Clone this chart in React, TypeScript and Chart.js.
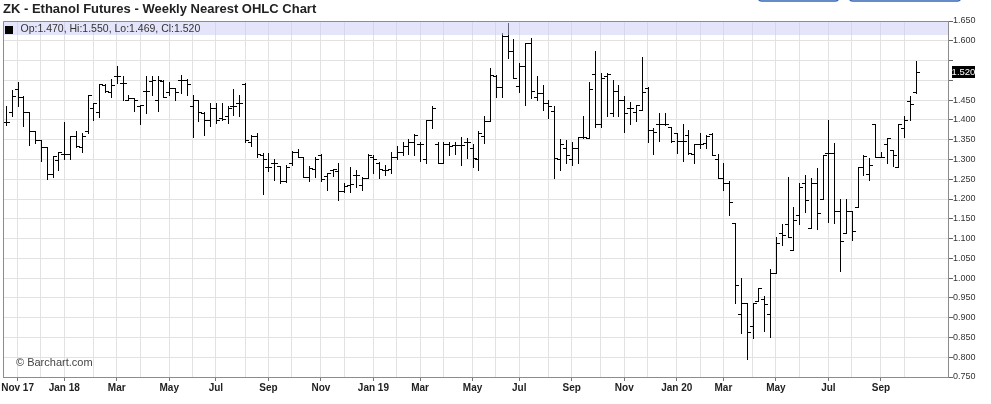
import { useEffect, useRef } from 'react';
import { Chart, registerables, BarController } from 'chart.js';

Chart.register(...registerables);

// Weekly bars (Monday dates), first bar week of 2017-10-23
const FIRST_WEEK = Date.UTC(2017, 9, 23);

const opens = [
  1.395, 1.42, 1.477, 1.457, 1.42, 1.373, 1.35, 1.331, 1.263, 1.299,
  1.313, 1.313, 1.36, 1.331, 1.373, 1.43, 1.42, 1.489, 1.471, 1.51,
  1.493, 1.45, 1.455, 1.434, 1.472, 1.498, 1.451, 1.498, 1.47, 1.48,
  1.5, 1.5, 1.434, 1.45, 1.417, 1.4, 1.43, 1.405, 1.41, 1.434,
  1.443, 1.49, 1.345, 1.36, 1.31, 1.28, 1.29, 1.283, 1.245, 1.29,
  1.32, 1.307, 1.256, 1.275, 1.31, 1.258, 1.273, 1.27, 1.22, 1.236,
  1.26, 1.235, 1.252, 1.305, 1.29, 1.273, 1.275, 1.305, 1.32, 1.335,
  1.345, 1.34, 1.3, 1.4, 1.34, 1.29, 1.34, 1.337, 1.336, 1.343,
  1.329, 1.3, 1.36, 1.398, 1.51, 1.482, 1.611, 1.575, 1.485, 1.535,
  1.594, 1.457, 1.469, 1.442, 1.423, 1.3, 1.33, 1.3, 1.33, 1.356,
  1.354, 1.515, 1.39, 1.51, 1.417, 1.474, 1.45, 1.43, 1.42, 1.425,
  1.48, 1.375, 1.39, 1.39, 1.383, 1.368, 1.347, 1.362, 1.313, 1.339,
  1.341, 1.365, 1.3, 1.252, 1.241, 1.14, 0.909, 0.938, 0.878, 0.942,
  0.948, 0.909, 1.012, 1.113, 1.138, 1.071, 1.16, 1.241, 1.126, 1.241,
  1.199, 1.317, 1.317, 1.17, 1.113, 1.17, 1.179, 1.28, 1.263, 1.389,
  1.305, 1.339, 1.324, 1.28, 1.379, 1.449, 1.47,
];
const highs = [
  1.434, 1.475, 1.496, 1.46, 1.42, 1.373, 1.35, 1.331, 1.308, 1.32,
  1.394, 1.36, 1.373, 1.368, 1.464, 1.443, 1.491, 1.491, 1.504, 1.536,
  1.51, 1.464, 1.455, 1.438, 1.512, 1.512, 1.512, 1.502, 1.496, 1.481,
  1.514, 1.504, 1.464, 1.451, 1.419, 1.443, 1.443, 1.443, 1.434, 1.477,
  1.464, 1.492, 1.362, 1.366, 1.317, 1.317, 1.3, 1.283, 1.285, 1.322,
  1.327, 1.307, 1.283, 1.305, 1.315, 1.266, 1.277, 1.292, 1.24, 1.282,
  1.273, 1.256, 1.313, 1.311, 1.294, 1.286, 1.32, 1.334, 1.345, 1.351,
  1.364, 1.345, 1.4, 1.435, 1.345, 1.345, 1.345, 1.345, 1.358, 1.355,
  1.339, 1.371, 1.41, 1.531, 1.514, 1.619, 1.645, 1.605, 1.544, 1.594,
  1.608, 1.512, 1.489, 1.451, 1.434, 1.352, 1.35, 1.345, 1.358, 1.41,
  1.497, 1.575, 1.518, 1.518, 1.5, 1.489, 1.461, 1.445, 1.438, 1.56,
  1.482, 1.379, 1.417, 1.417, 1.383, 1.368, 1.39, 1.375, 1.339, 1.366,
  1.362, 1.368, 1.313, 1.29, 1.245, 1.14, 1.0, 0.938, 0.937, 0.975,
  0.954, 1.024, 1.105, 1.137, 1.256, 1.18, 1.241, 1.261, 1.252, 1.278,
  1.311, 1.4, 1.341, 1.199, 1.199, 1.17, 1.28, 1.311, 1.303, 1.389,
  1.32, 1.354, 1.324, 1.389, 1.409, 1.461, 1.55,
];
const lows = [
  1.386, 1.409, 1.434, 1.384, 1.337, 1.341, 1.295, 1.25, 1.255, 1.274,
  1.3, 1.3, 1.331, 1.318, 1.367, 1.4, 1.407, 1.471, 1.458, 1.492,
  1.45, 1.45, 1.422, 1.39, 1.417, 1.464, 1.422, 1.458, 1.464, 1.451,
  1.468, 1.464, 1.358, 1.396, 1.363, 1.384, 1.392, 1.4, 1.392, 1.413,
  1.409, 1.345, 1.333, 1.307, 1.212, 1.27, 1.248, 1.241, 1.243, 1.286,
  1.307, 1.256, 1.246, 1.256, 1.246, 1.222, 1.258, 1.197, 1.218, 1.218,
  1.231, 1.222, 1.252, 1.265, 1.252, 1.26, 1.265, 1.3, 1.31, 1.315,
  1.31, 1.295, 1.29, 1.38, 1.29, 1.29, 1.31, 1.313, 1.286, 1.303,
  1.282, 1.273, 1.341, 1.398, 1.459, 1.457, 1.556, 1.506, 1.47, 1.438,
  1.455, 1.451, 1.426, 1.404, 1.253, 1.274, 1.29, 1.286, 1.29, 1.354,
  1.354, 1.381, 1.383, 1.409, 1.409, 1.409, 1.369, 1.39, 1.397, 1.425,
  1.345, 1.313, 1.347, 1.388, 1.345, 1.316, 1.296, 1.313, 1.29, 1.328,
  1.328, 1.311, 1.252, 1.223, 1.159, 0.936, 0.86, 0.796, 0.849, 0.942,
  0.866, 0.851, 1.012, 1.083, 1.103, 1.071, 1.138, 1.168, 1.126, 1.123,
  1.199, 1.142, 1.14, 1.018, 1.113, 1.097, 1.179, 1.261, 1.248, 1.306,
  1.305, 1.29, 1.284, 1.28, 1.358, 1.399, 1.469,
];
const closes = [
  1.395, 1.46, 1.457, 1.42, 1.373, 1.35, 1.331, 1.263, 1.308, 1.32,
  1.313, 1.36, 1.333, 1.36, 1.464, 1.443, 1.491, 1.474, 1.489, 1.51,
  1.493, 1.455, 1.45, 1.438, 1.472, 1.5, 1.502, 1.458, 1.48, 1.47,
  1.5, 1.49, 1.451, 1.42, 1.4, 1.43, 1.4, 1.402, 1.43, 1.434,
  1.443, 1.35, 1.36, 1.315, 1.3, 1.28, 1.29, 1.245, 1.28, 1.32,
  1.307, 1.256, 1.278, 1.3, 1.25, 1.265, 1.275, 1.221, 1.234, 1.237,
  1.26, 1.253, 1.31, 1.3, 1.275, 1.273, 1.305, 1.32, 1.333, 1.345,
  1.362, 1.34, 1.4, 1.43, 1.29, 1.34, 1.335, 1.337, 1.336, 1.343,
  1.303, 1.366, 1.398, 1.514, 1.482, 1.611, 1.575, 1.506, 1.535, 1.594,
  1.472, 1.469, 1.442, 1.436, 1.303, 1.34, 1.31, 1.33, 1.356, 1.356,
  1.479, 1.39, 1.507, 1.515, 1.474, 1.45, 1.417, 1.43, 1.438, 1.47,
  1.375, 1.369, 1.39, 1.39, 1.347, 1.347, 1.347, 1.316, 1.339, 1.339,
  1.36, 1.311, 1.252, 1.241, 1.193, 0.982, 0.938, 0.864, 0.937, 0.974,
  0.934, 1.012, 1.088, 1.109, 1.103, 1.148, 1.231, 1.197, 1.241, 1.164,
  1.311, 1.317, 1.17, 1.093, 1.17, 1.12, 1.28, 1.309, 1.286, 1.306,
  1.306, 1.354, 1.312, 1.389, 1.4, 1.441, 1.52,
];

const priceTicks = [
  0.75, 0.8, 0.85, 0.9, 0.95, 1.0, 1.05, 1.1, 1.15, 1.2,
  1.25, 1.3, 1.35, 1.4, 1.45, 1.5, 1.55, 1.6, 1.65,
];
const hiddenPriceLabels = [1.5, 1.55]; // covered by the last-price marker
const monthNames = ['Jan', 'Feb', 'Mar', 'Apr', 'May', 'Jun', 'Jul', 'Aug', 'Sep', 'Oct', 'Nov', 'Dec'];
const labelledMonths = [0, 2, 4, 6, 8, 10];

const TITLE = 'ZK - Ethanol Futures - Weekly Nearest OHLC Chart';
const COPYRIGHT = '\u00A9 Barchart.com';
const FONT = '"Liberation Sans", Arial, Helvetica, sans-serif';

const weekDates = opens.map((_, i) => new Date(FIRST_WEEK + i * 7 * 86400000));

// month grid positions: first weekly bar of each month
const monthTicks: { value: number; label: string }[] = [];
{
  let firstLabel = true;
  weekDates.forEach((d, i) => {
    if (i === 0) return;
    const m = d.getUTCMonth();
    if (m === weekDates[i - 1].getUTCMonth()) return;
    let label = '';
    if (labelledMonths.includes(m)) {
      label = monthNames[m];
      if (m === 0 || firstLabel) label += ' ' + String(d.getUTCFullYear()).slice(2);
      firstLabel = false;
    }
    monthTicks.push({ value: i, label });
  });
}

const ohlcData = opens.map((o, i) => ({ x: i, y: [lows[i], highs[i]], o, c: closes[i] }));

class OhlcController extends (BarController as any) {
  static id = 'ohlc';
  static defaults = { ...(BarController as any).defaults };
  static overrides = {
    scales: { _index_: { type: 'linear' }, _value_: { type: 'linear' } },
  };
  draw() {
    const self: any = this;
    const meta = self._cachedMeta;
    const chart = self.chart;
    const ctx: CanvasRenderingContext2D = chart.ctx;
    const yScale = meta.vScale;
    const xScale = meta.iScale;
    const area = chart.chartArea;
    const raw = self.getDataset().data;
    ctx.save();
    ctx.beginPath();
    ctx.rect(area.left, area.top, area.right - area.left, area.bottom - area.top);
    ctx.clip();
    ctx.strokeStyle = self.getDataset().color || '#000';
    ctx.lineWidth = 1;
    ctx.beginPath();
    for (let i = 0; i < raw.length; i++) {
      const d = raw[i];
      const X = Math.round(xScale.getPixelForValue(d.x));
      const yh = Math.round(yScale.getPixelForValue(d.y[1]));
      const yl = Math.round(yScale.getPixelForValue(d.y[0]));
      const yo = Math.round(yScale.getPixelForValue(d.o)) + 0.5;
      const yc = Math.round(yScale.getPixelForValue(d.c)) + 0.5;
      ctx.moveTo(X + 0.5, yh);
      ctx.lineTo(X + 0.5, Math.max(yl + 1, yh + 1));
      ctx.moveTo(X - 3, yo);
      ctx.lineTo(X + 1, yo);
      ctx.moveTo(X, yc);
      ctx.lineTo(X + 4, yc);
    }
    ctx.stroke();
    ctx.restore();
  }
}
Chart.register(OhlcController as any);

const decorations = {
  id: 'barchartDecor',
  beforeDraw(chart: any) {
    const ctx = chart.ctx;
    ctx.save();
    ctx.fillStyle = '#ffffff';
    ctx.fillRect(0, 0, chart.width, chart.height);
    ctx.restore();
  },
  afterDatasetsDraw(chart: any) {
    const ctx: CanvasRenderingContext2D = chart.ctx;
    const a = chart.chartArea;
    ctx.save();
    // legend band
    ctx.fillStyle = 'rgba(201, 201, 245, 0.5)';
    ctx.fillRect(a.left, a.top, a.right - a.left, 14);
    ctx.fillStyle = '#000';
    ctx.fillRect(5, 26, 8, 8);
    const last = opens.length - 1;
    ctx.fillStyle = '#333';
    ctx.font = `10.5px ${FONT}`;
    ctx.textBaseline = 'middle';
    ctx.textAlign = 'left';
    ctx.fillText(
      `Op:${opens[last].toFixed(3)}, Hi:${highs[last].toFixed(3)}, Lo:${lows[last].toFixed(3)}, Cl:${closes[last].toFixed(3)}`,
      20.5,
      29.5
    );
    ctx.restore();
  },
  afterDraw(chart: any) {
    const ctx: CanvasRenderingContext2D = chart.ctx;
    const a = chart.chartArea;
    const yScale = chart.scales.y;
    ctx.save();
    // plot frame (top, left)
    ctx.strokeStyle = '#8c8c8c';
    ctx.lineWidth = 1;
    ctx.beginPath();
    ctx.moveTo(Math.round(a.left) + 0.5, Math.round(a.bottom));
    ctx.lineTo(Math.round(a.left) + 0.5, Math.round(a.top) + 0.5);
    ctx.lineTo(Math.round(a.right), Math.round(a.top) + 0.5);
    ctx.stroke();
    // title
    ctx.fillStyle = '#222';
    ctx.font = `bold 13px ${FONT}`;
    ctx.textBaseline = 'middle';
    ctx.textAlign = 'left';
    ctx.fillText(TITLE, 3, 9);
    // copyright
    ctx.fillStyle = '#444';
    ctx.font = `11px ${FONT}`;
    ctx.fillText(COPYRIGHT, 16, 363);
    // last price marker
    const lastClose = closes[closes.length - 1];
    const yc = yScale.getPixelForValue(lastClose);
    ctx.fillStyle = '#000';
    ctx.fillRect(952, Math.round(yc) - 6, 23, 12);
    ctx.fillStyle = '#fff';
    ctx.font = `9.5px ${FONT}`;
    ctx.textAlign = 'center';
    ctx.fillText(lastClose.toFixed(3), 963.5, Math.round(yc) + 0.5);
    // toolbar buttons (bottom edges visible)
    ctx.strokeStyle = '#3566b8';
    ctx.lineWidth = 1.5;
    ctx.beginPath();
    (ctx as any).roundRect(758.5, -10, 80, 11, 3);
    ctx.stroke();
    ctx.beginPath();
    (ctx as any).roundRect(849.5, -10, 111, 11, 3);
    ctx.stroke();
    ctx.restore();
  },
};

export default function App() {
  const ref = useRef<HTMLCanvasElement | null>(null);
  useEffect(() => {
    document.body.style.margin = '0';
    Chart.defaults.font.family = FONT;
    const chart = new Chart(ref.current as HTMLCanvasElement, {
      type: 'ohlc' as any,
      data: {
        datasets: [
          {
            label: 'ZK',
            data: ohlcData as any,
            color: '#000',
          } as any,
        ],
      },
      options: {
        responsive: false,
        animation: false,
        devicePixelRatio: 1,
        events: [],
        layout: { padding: { top: 21, left: 3, right: 0, bottom: 0 } },
        plugins: {
          legend: { display: false },
          tooltip: { enabled: false },
          title: { display: false },
        },
        scales: {
          x: {
            type: 'linear',
            min: -0.5,
            max: 161.5,
            offset: false,
            afterBuildTicks: (s: any) => {
              s.ticks = monthTicks.map((t) => ({ value: t.value }));
            },
            afterFit: (s: any) => {
              s.height = 27;
              s.paddingLeft = 0;
              s.paddingRight = 0;
            },
            ticks: {
              autoSkip: false,
              maxRotation: 0,
              minRotation: 0,
              padding: 1,
              color: '#222',
              font: { family: FONT, size: 10, weight: 'bold' },
              callback: (_v: any, i: number) => monthTicks[i]?.label ?? '',
            },
            grid: {
              color: '#e2e2e2',
              tickLength: 4,
              tickColor: (c: any) => (monthTicks[c.index]?.label ? '#777' : 'rgba(0,0,0,0)'),
            },
            border: { display: true, color: '#8c8c8c' },
          } as any,
          y: {
            type: 'linear',
            position: 'right',
            min: 0.75,
            max: 1.65,
            afterBuildTicks: (s: any) => {
              s.ticks = priceTicks.map((v) => ({ value: v }));
            },
            afterFit: (s: any) => {
              s.width = 43;
              s.paddingTop = 0;
              s.paddingBottom = 0;
            },
            ticks: {
              autoSkip: false,
              padding: 0,
              color: '#333',
              font: { family: FONT, size: 9 },
              callback: (v: any) =>
                hiddenPriceLabels.some((h) => Math.abs(h - Number(v)) < 1e-6) ? '' : Number(v).toFixed(3),
            },
            grid: { color: '#e2e2e2', tickLength: 5, tickColor: '#666' },
            border: { display: true, color: '#8c8c8c' },
          } as any,
        },
      },
      plugins: [decorations],
    } as any);
    return () => chart.destroy();
  }, []);
  return (
    <div style={{ width: 991, height: 404, position: 'relative' }}>
      <canvas ref={ref} width={991} height={404} style={{ display: 'block', width: 991, height: 404 }} />
    </div>
  );
}
